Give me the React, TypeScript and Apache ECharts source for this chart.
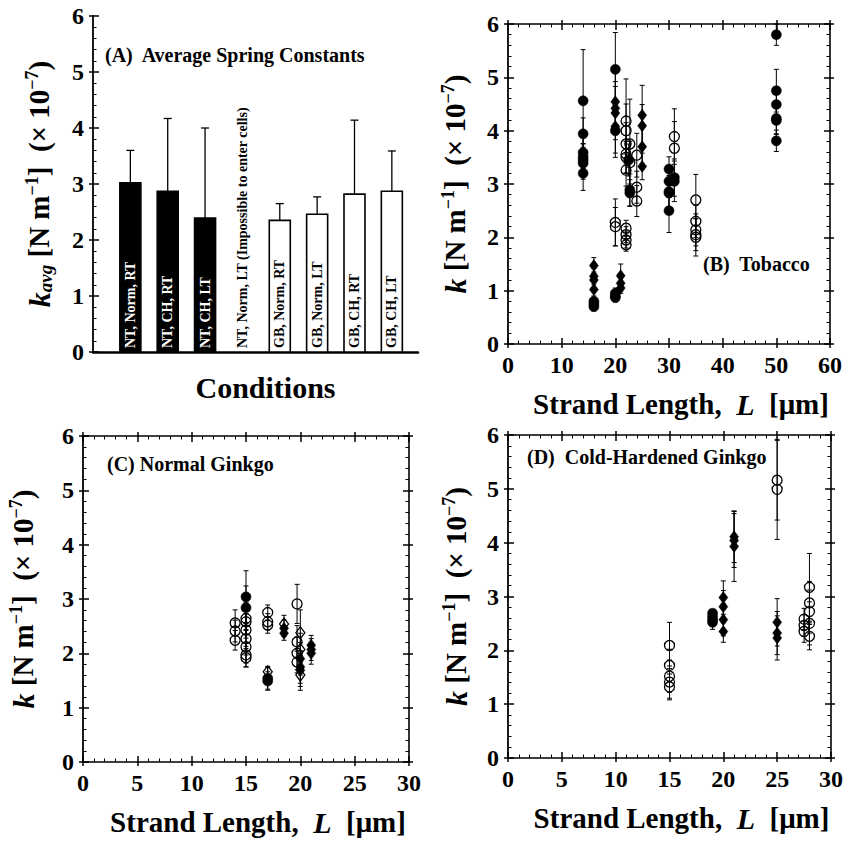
import React, { useEffect, useRef } from "react";
import * as echarts from "echarts";

// ---------- Panel A: average spring constants ----------
const conditions = [
  "NT, Norm, RT",
  "NT, CH, RT",
  "NT, CH, LT",
  "NT, Norm, LT (Impossible to enter cells)",
  "GB, Norm, RT",
  "GB, Norm, LT",
  "GB, CH, RT",
  "GB, CH, LT",
];
const kAvg = [3.02, 2.87, 2.39, 0, 2.35, 2.46, 2.82, 2.87];
const kAvgErr = [0.58, 1.3, 1.61, 0, 0.3, 0.31, 1.32, 0.72];
const barFilled = [true, true, true, false, false, false, false, false];

const yTicks = [0, 1, 2, 3, 4, 5, 6];
const xTicksTobacco = [0, 10, 20, 30, 40, 50, 60];
const xTicksGinkgo = [0, 5, 10, 15, 20, 25, 30];

// ---------- Panel B: Tobacco  [L, k, err] ----------
const tobaccoFilledCircle = [
  [14, 4.56, 0.96], [14, 3.94, 0.3], [14, 3.59, 0.3], [14, 3.51, 0.25], [14, 3.45, 0.3], [14, 3.39, 0.3], [14, 3.2, 0.32],
  [16, 0.8, 0.1], [16, 0.75, 0.08], [16, 0.7, 0.08],
  [20, 5.15, 0.69], [20, 4.0, 0.5], [20, 0.95, 0.1], [20, 0.9, 0.08], [20, 0.87, 0.08],
  [22.5, 3.45, 0.3], [22.7, 2.89, 0.3], [22.7, 2.83, 0.25],
  [30, 3.28, 0.23], [30, 3.05, 0.3], [30, 2.86, 0.3], [30, 2.83, 0.3], [30, 2.5, 0.41],
  [31, 3.12, 0.35], [31, 3.05, 0.38],
  [50, 5.8, 0.2], [50, 4.75, 0.4], [50, 4.49, 0.3], [50, 4.23, 0.3], [50, 4.19, 0.25], [50, 3.81, 0.2],
];
const tobaccoFilledDiamond = [
  [16, 1.47, 0.15], [16, 1.27, 0.15], [16, 1.2, 0.15], [16, 1.02, 0.15],
  [20, 4.54, 0.6], [20, 4.42, 0.5], [20, 4.33, 0.5], [20, 4.08, 0.5],
  [21, 1.28, 0.22], [21, 1.14, 0.15], [21, 1.05, 0.1],
  [25, 4.29, 0.56], [25, 4.09, 0.4], [25, 3.7, 0.4], [25, 3.33, 0.25],
];
const tobaccoOpenCircle = [
  [20, 2.28, 0.44], [20, 2.2, 0.36],
  [22, 4.18, 0.79], [22, 4.0, 0.5], [22, 3.75, 0.4], [22, 3.56, 0.35], [22, 3.5, 0.3], [22, 3.26, 0.3],
  [22, 2.17, 0.15], [22, 2.05, 0.15], [22, 1.95, 0.15], [22, 1.86, 0.12],
  [22.7, 3.75, 0.84], [22.7, 3.4, 0.4],
  [24, 3.54, 0.41], [24, 2.94, 0.3], [24, 2.68, 0.29],
  [31, 3.89, 0.52], [31, 3.67, 0.5],
  [35, 2.7, 0.48], [35, 2.3, 0.3], [35, 2.14, 0.3], [35, 2.05, 0.3], [35, 2.0, 0.35],
];

// ---------- Panel C: Normal Ginkgo ----------
const normalOpenCircle = [
  [14, 2.56, 0.24], [14, 2.41, 0.2], [14, 2.24, 0.18],
  [15, 2.64, 0.3], [15, 2.58, 0.3], [15, 2.43, 0.3], [15, 2.27, 0.3], [15, 2.12, 0.3], [15, 1.97, 0.22], [15, 1.92, 0.17],
  [17, 2.75, 0.14], [17, 2.58, 0.15], [17, 2.52, 0.15],
  [19.7, 2.91, 0.36], [19.7, 2.21, 0.3], [19.7, 2.0, 0.3], [19.7, 1.84, 0.2],
];
const normalFilledCircle = [
  [15, 3.04, 0.48], [15, 2.84, 0.4], [17, 1.54, 0.2], [17, 1.49, 0.17],
];
const normalOpenDiamond = [
  [17, 1.66, 0.1], [18.5, 2.54, 0.16], [20, 2.38, 0.42], [20, 2.07, 0.3], [20, 1.6, 0.28],
];
const normalFilledDiamond = [
  [18.5, 2.46, 0.15], [18.5, 2.37, 0.13], [20, 1.9, 0.3], [20, 1.75, 0.3], [20, 1.69, 0.3],
  [21, 2.15, 0.18], [21, 2.07, 0.2], [21, 2.0, 0.2],
];

// ---------- Panel D: Cold-Hardened Ginkgo ----------
const coldOpenCircle = [
  [15, 2.09, 0.43], [15, 1.72, 0.3], [15, 1.52, 0.3], [15, 1.41, 0.3], [15, 1.32, 0.24],
  [25, 5.16, 0.74], [25, 4.99, 0.93],
  [27.5, 2.58, 0.2], [27.5, 2.46, 0.2], [27.5, 2.35, 0.2],
  [28, 3.17, 0.63], [28, 2.88, 0.4], [28, 2.72, 0.4], [28, 2.5, 0.4], [28, 2.26, 0.25],
];
const coldFilledCircle = [
  [19, 2.69, 0.06], [19, 2.62, 0.1], [19, 2.56, 0.1], [19, 2.52, 0.13],
];
const coldFilledDiamond = [
  [20, 2.98, 0.31], [20, 2.81, 0.3], [20, 2.57, 0.3], [20, 2.35, 0.2],
  [21, 4.11, 0.48], [21, 4.04, 0.5], [21, 3.93, 0.65],
  [25, 2.52, 0.44], [25, 2.32, 0.4], [25, 2.23, 0.41],
];

const FONT = "Liberation Serif";
const BLACK = "#000";

const tickLabel = {
  color: BLACK,
  fontFamily: FONT,
  fontWeight: "bold" as const,
  fontSize: 24,
};

const nameStyle = {
  color: BLACK,
  fontFamily: FONT,
  fontWeight: "bold" as const,
  fontSize: 29,
  lineHeight: 32,
  rich: {
    i: { fontFamily: FONT, fontWeight: "bold", fontStyle: "italic", fontSize: 30, color: BLACK },
    sub: { fontFamily: FONT, fontWeight: "bold", fontStyle: "italic", fontSize: 19, color: BLACK, verticalAlign: "bottom" },
    sup: { fontFamily: FONT, fontWeight: "bold", fontSize: 18, color: BLACK, verticalAlign: "top" },
    n: { fontFamily: FONT, fontWeight: "bold", fontSize: 29, color: BLACK },
  },
};

const kName = "{i|k} {n|[N m}{sup|−1}{n|]  (× 10}{sup|−7}{n|)}";
const kAvgName = "{i|k}{sub|avg}{n| [N m}{sup|−1}{n|]  (× 10}{sup|−7}{n|)}";
const lName = "{n|Strand Length,  }{i|L}{n|  [μm]}";

const tickCommon = {
  axisTick: { inside: true, length: 6, lineStyle: { color: BLACK, width: 1.5 } },
  minorTick: { show: true, splitNumber: 5, length: 3.5, lineStyle: { color: BLACK, width: 1 } },
  splitLine: { show: false },
};

function rangeOf(ticks: number[]) {
  return { min: ticks[0], max: ticks[ticks.length - 1], interval: ticks[1] - ticks[0] };
}

function mainX(gridIndex: number, ticks: number[]) {
  return {
    gridIndex,
    type: "value",
    ...rangeOf(ticks),
    axisLine: { onZero: false, lineStyle: { color: BLACK, width: 1.6 } },
    ...tickCommon,
    axisLabel: { ...tickLabel, margin: 9 },
    name: lName,
    nameLocation: "middle",
    nameGap: 44,
    nameTextStyle: { ...nameStyle, padding: [0, 0, 0, 24] },
  };
}
function mirrorX(gridIndex: number, ticks: number[]) {
  return {
    gridIndex,
    type: "value",
    position: "top",
    ...rangeOf(ticks),
    axisLine: { onZero: false, lineStyle: { color: BLACK, width: 1.6 } },
    ...tickCommon,
    axisLabel: { show: false },
  };
}
// outward half of the major ticks, so that they cross the axis line
function outerX(gridIndex: number, ticks: number[], position: string) {
  return {
    gridIndex,
    type: "value",
    position,
    ...rangeOf(ticks),
    axisLine: { show: false, onZero: false },
    axisTick: { inside: false, length: 4, lineStyle: { color: BLACK, width: 1.5 } },
    minorTick: { show: false },
    splitLine: { show: false },
    axisLabel: { show: false },
  };
}
function mainY(gridIndex: number, name: string, nameGap: number) {
  return {
    gridIndex,
    type: "value",
    ...rangeOf(yTicks),
    axisLine: { onZero: false, lineStyle: { color: BLACK, width: 1.8 } },
    ...tickCommon,
    axisLabel: { ...tickLabel, margin: 9 },
    name,
    nameLocation: "middle",
    nameGap,
    nameTextStyle: nameStyle,
  };
}
function mirrorY(gridIndex: number) {
  return {
    gridIndex,
    type: "value",
    position: "right",
    ...rangeOf(yTicks),
    axisLine: { onZero: false, lineStyle: { color: BLACK, width: 1.6 } },
    ...tickCommon,
    axisLabel: { show: false },
  };
}
function outerY(gridIndex: number, position: string) {
  return {
    gridIndex,
    type: "value",
    position,
    ...rangeOf(yTicks),
    axisLine: { show: false, onZero: false },
    axisTick: { inside: false, length: 4, lineStyle: { color: BLACK, width: 1.5 } },
    minorTick: { show: false },
    splitLine: { show: false },
    axisLabel: { show: false },
  };
}

function errorSeries(data: number[][], axis: number) {
  return {
    type: "custom",
    xAxisIndex: axis,
    yAxisIndex: axis,
    data,
    encode: { x: 0, y: 1 },
    z: 3,
    renderItem: (_p: any, api: any) => {
      const x = api.value(0);
      const y = api.value(1);
      const e = api.value(2);
      const a = api.coord([x, y + e]);
      const b = api.coord([x, y - e]);
      const c = 2.5;
      const st = { stroke: BLACK, lineWidth: 1 };
      return {
        type: "group",
        children: [
          { type: "line", shape: { x1: a[0], y1: a[1], x2: b[0], y2: b[1] }, style: st },
          { type: "line", shape: { x1: a[0] - c, y1: a[1], x2: a[0] + c, y2: a[1] }, style: st },
          { type: "line", shape: { x1: b[0] - c, y1: b[1], x2: b[0] + c, y2: b[1] }, style: st },
        ],
      };
    },
  };
}

function markerSeries(data: number[][], axis: number, kind: "fc" | "fd" | "oc" | "od") {
  const filled = kind === "fc" || kind === "fd";
  const diamond = kind === "fd" || kind === "od";
  return {
    type: "scatter",
    xAxisIndex: axis,
    yAxisIndex: axis,
    data: data.map((d) => [d[0], d[1]]),
    symbol: diamond ? "diamond" : "circle",
    symbolSize: diamond ? [9, 12] : 10,
    z: 4,
    itemStyle: {
      color: filled ? BLACK : "rgba(255,255,255,0)",
      borderColor: BLACK,
      borderWidth: filled ? 0.5 : 1.3,
      opacity: 1,
    },
  };
}

function buildOption() {
  const barData = conditions.map((_c, i) => [i + 1, kAvg[i], kAvgErr[i]]);
  // axis index per scatter panel: B = 1, C = 3, D = 5 (x and y use the same index)
  return {
    animation: false,
    backgroundColor: "#fff",
    textStyle: { fontFamily: FONT },
    grid: [
      { left: 93, top: 16, width: 325, height: 336 },
      { left: 508, top: 24, width: 322, height: 320 },
      { left: 83, top: 436, width: 326, height: 326 },
      { left: 508, top: 435, width: 324, height: 323 },
    ],
    xAxis: [
      {
        gridIndex: 0,
        type: "value",
        min: 0,
        max: 8.7,
        axisLine: { onZero: false, lineStyle: { color: BLACK, width: 2.5 } },
        axisTick: { show: false },
        axisLabel: { show: false },
        splitLine: { show: false },
        name: "Conditions",
        nameLocation: "middle",
        nameGap: 20,
        nameTextStyle: { color: BLACK, fontFamily: FONT, fontWeight: "bold", fontSize: 30, padding: [0, 0, 0, 20] },
      },
      mainX(1, xTicksTobacco),
      mirrorX(1, xTicksTobacco),
      mainX(2, xTicksGinkgo),
      mirrorX(2, xTicksGinkgo),
      mainX(3, xTicksGinkgo),
      mirrorX(3, xTicksGinkgo),
      outerX(1, xTicksTobacco, "bottom"),
      outerX(1, xTicksTobacco, "top"),
      outerX(2, xTicksGinkgo, "bottom"),
      outerX(2, xTicksGinkgo, "top"),
      outerX(3, xTicksGinkgo, "bottom"),
      outerX(3, xTicksGinkgo, "top"),
    ],
    yAxis: [
      mainY(0, kAvgName, 38),
      mainY(1, kName, 37),
      mirrorY(1),
      mainY(2, kName, 44),
      mirrorY(2),
      mainY(3, kName, 36),
      mirrorY(3),
      outerY(0, "left"),
      outerY(1, "left"),
      outerY(1, "right"),
      outerY(2, "left"),
      outerY(2, "right"),
      outerY(3, "left"),
      outerY(3, "right"),
    ],
    graphic: [
      { type: "text", left: 105, top: 45, style: { text: "(A)  Average Spring Constants", fill: BLACK, font: `bold 20px ${FONT}` } },
      { type: "text", left: 703, top: 254, style: { text: "(B)  Tobacco", fill: BLACK, font: `bold 20px ${FONT}` } },
      { type: "text", left: 107, top: 454, style: { text: "(C) Normal Ginkgo", fill: BLACK, font: `bold 20px ${FONT}` } },
      { type: "text", left: 527, top: 447, style: { text: "(D)  Cold-Hardened Ginkgo", fill: BLACK, font: `bold 20px ${FONT}` } },
    ],
    series: [
      {
        type: "custom",
        xAxisIndex: 0,
        yAxisIndex: 0,
        data: barData,
        encode: { x: 0, y: 1 },
        renderItem: (params: any, api: any) => {
          const i = params.dataIndex;
          const x = api.value(0);
          const v = api.value(1);
          const e = api.value(2);
          const top = api.coord([x, v]);
          const base = api.coord([x, 0]);
          const errTop = api.coord([x, v + e]);
          const w = 21;
          const filled = barFilled[i];
          const children: any[] = [];
          if (v > 0) {
            children.push({
              type: "line",
              shape: { x1: top[0], y1: top[1], x2: top[0], y2: errTop[1] },
              style: { stroke: BLACK, lineWidth: 1.3 },
            });
            children.push({
              type: "line",
              shape: { x1: top[0] - 4, y1: errTop[1], x2: top[0] + 4, y2: errTop[1] },
              style: { stroke: BLACK, lineWidth: 1.3 },
            });
            children.push({
              type: "rect",
              shape: { x: top[0] - w / 2, y: top[1], width: w, height: base[1] - top[1] },
              style: { fill: filled ? BLACK : "#fff", stroke: BLACK, lineWidth: 1.6 },
            });
          }
          children.push({
            type: "text",
            x: base[0],
            y: base[1] - 4,
            rotation: Math.PI / 2,
            style: {
              text: conditions[i],
              fill: filled ? "#fff" : BLACK,
              font: `bold 14px ${FONT}`,
              align: "left",
              verticalAlign: "middle",
            },
          });
          return { type: "group", children };
        },
      },
      errorSeries(tobaccoFilledCircle, 1),
      errorSeries(tobaccoFilledDiamond, 1),
      errorSeries(tobaccoOpenCircle, 1),
      markerSeries(tobaccoFilledCircle, 1, "fc"),
      markerSeries(tobaccoFilledDiamond, 1, "fd"),
      markerSeries(tobaccoOpenCircle, 1, "oc"),
      errorSeries(normalOpenCircle, 3),
      errorSeries(normalFilledCircle, 3),
      errorSeries(normalOpenDiamond, 3),
      errorSeries(normalFilledDiamond, 3),
      markerSeries(normalOpenCircle, 3, "oc"),
      markerSeries(normalFilledCircle, 3, "fc"),
      markerSeries(normalOpenDiamond, 3, "od"),
      markerSeries(normalFilledDiamond, 3, "fd"),
      errorSeries(coldOpenCircle, 5),
      errorSeries(coldFilledCircle, 5),
      errorSeries(coldFilledDiamond, 5),
      markerSeries(coldOpenCircle, 5, "oc"),
      markerSeries(coldFilledCircle, 5, "fc"),
      markerSeries(coldFilledDiamond, 5, "fd"),
    ],
  };
}

export default function App() {
  const ref = useRef<HTMLDivElement>(null);
  useEffect(() => {
    document.body.style.margin = "0";
    if (!ref.current) return;
    const chart = echarts.init(ref.current, undefined, { renderer: "svg" });
    chart.setOption(buildOption() as any);
    return () => chart.dispose();
  }, []);
  return (
    <div
      ref={ref}
      style={{ position: "fixed", left: 0, top: 0, width: 846, height: 841, background: "#fff" }}
    />
  );
}
